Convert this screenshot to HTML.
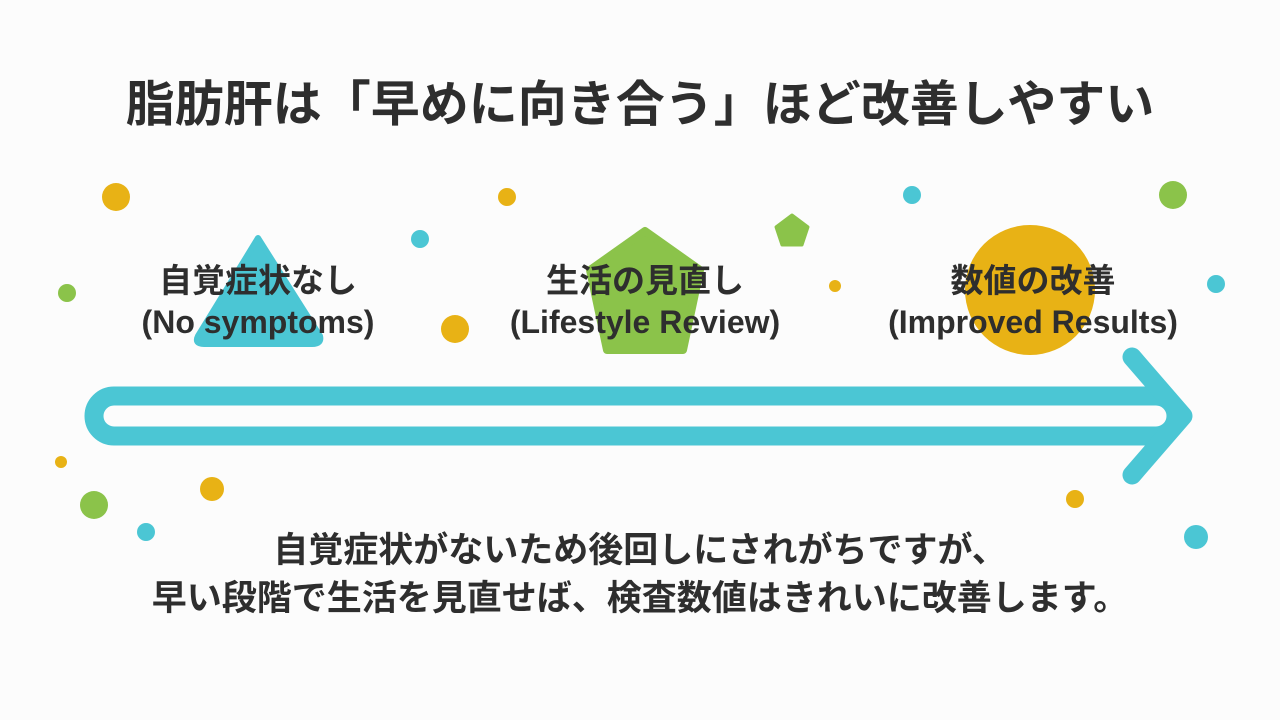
<!DOCTYPE html>
<html><head><meta charset="utf-8"><style>
body{margin:0;background:#fcfcfc;}
svg{display:block}
text{font-family:"Liberation Sans","Noto Sans CJK JP",sans-serif;fill:#2e2e2e;font-weight:bold;text-anchor:middle}
</style></head><body>
<svg width="1280" height="720" viewBox="0 0 1280 720">
<rect width="1280" height="720" fill="#fcfcfc"/>
<text x="640" y="121" font-size="49">脂肪肝は「早めに向き合う」ほど改善しやすい</text>
<!-- shapes -->
<path d="M258 238 L320 336 Q322 344 312 344 L204 344 Q194 344 198 336 Z" fill="#4BC6D4" stroke="#4BC6D4" stroke-width="6" stroke-linejoin="round"/>
<polygon points="645,231 700,270 683,350 607,350 590,270" fill="#8BC34A" stroke="#8BC34A" stroke-width="8" stroke-linejoin="round"/>
<circle cx="1030" cy="290" r="65" fill="#E8B215"/>
<polygon points="792,215 808,227 802,245 782,245 776,227" fill="#8BC34A" stroke="#8BC34A" stroke-width="3" stroke-linejoin="round"/>
<!-- dots -->
<circle cx="116" cy="197" r="14" fill="#E8B215"/>
<circle cx="67" cy="293" r="9" fill="#8BC34A"/>
<circle cx="420" cy="239" r="9" fill="#4BC6D4"/>
<circle cx="455" cy="329" r="14" fill="#E8B215"/>
<circle cx="507" cy="197" r="9" fill="#E8B215"/>
<circle cx="835" cy="286" r="6" fill="#E8B215"/>
<circle cx="912" cy="195" r="9" fill="#4BC6D4"/>
<circle cx="1173" cy="195" r="14" fill="#8BC34A"/>
<circle cx="1216" cy="284" r="9" fill="#4BC6D4"/>
<circle cx="61" cy="462" r="6" fill="#E8B215"/>
<circle cx="94" cy="505" r="14" fill="#8BC34A"/>
<circle cx="212" cy="489" r="12" fill="#E8B215"/>
<circle cx="146" cy="532" r="9" fill="#4BC6D4"/>
<circle cx="1075" cy="499" r="9" fill="#E8B215"/>
<circle cx="1196" cy="537" r="12" fill="#4BC6D4"/>
<!-- arrow -->
<rect x="94" y="396" width="1082" height="40" rx="20" fill="none" stroke="#4BC6D4" stroke-width="19"/>
<polyline points="1132,357 1183,416 1132,475" fill="none" stroke="#4BC6D4" stroke-width="19" stroke-linecap="round" stroke-linejoin="round"/>
<!-- labels -->
<text x="258" y="292" font-size="33">自覚症状なし</text>
<text x="258" y="333" font-size="32">(No symptoms)</text>
<text x="645" y="292" font-size="33">生活の見直し</text>
<text x="645" y="333" font-size="32">(Lifestyle Review)</text>
<text x="1033" y="292" font-size="33">数値の改善</text>
<text x="1033" y="333" font-size="32">(Improved Results)</text>
<text x="640" y="562" font-size="35">自覚症状がないため後回しにされがちですが、</text>
<text x="640" y="610" font-size="35">早い段階で生活を見直せば、検査数値はきれいに改善します。</text>
</svg>
</body></html>
